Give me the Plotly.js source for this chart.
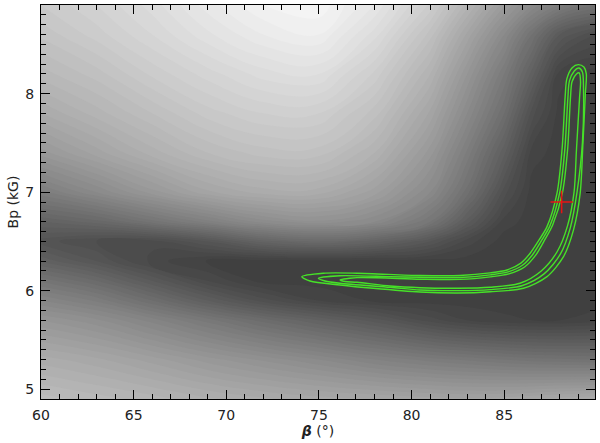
<!DOCTYPE html>
<html>
<head>
<meta charset="utf-8">
<script src="https://cdn.plot.ly/plotly-3.0.1.min.js"></script>
<style>
  html, body { margin: 0; padding: 0; background: #fff; }
  #chart { width: 600px; height: 443px; }
</style>
</head>
<body>
<div id="chart"></div>
<script>
// grid of the background map (beta in deg, Bp in kG)
const beta = [60, 63, 66, 69, 72, 75, 78, 81, 83, 85, 86.5, 88, 89.9];
const bp = [4.9, 5.3, 5.7, 5.9, 6.1, 6.3, 6.5, 6.7, 7.0, 7.4, 7.8, 8.2, 8.6, 8.9];

// grey level (0 black .. 255 white), one row per Bp
const grey = [
  [188, 184, 180, 175, 171, 168, 166, 164, 163, 164, 166, 168, 170],
  [172, 167, 160, 152, 145, 138, 130, 124, 121, 118, 116, 115, 114],
  [150, 143, 132, 120, 108,  98,  88,  76,  70,  67,  66,  66,  68],
  [134, 125, 110,  94,  80,  70,  65,  64,  64,  64,  64,  64,  64],
  [117, 106,  90,  74,  64,  64,  64,  64,  64,  64,  64,  64,  64],
  [ 97,  86,  72,  65,  64,  64,  64,  64,  64,  64,  64,  64,  64],
  [ 84,  78,  76,  86, 100, 106, 100,  86,  72,  64,  64,  64,  64],
  [ 98, 104, 116, 128, 140, 145, 138, 118,  92,  68,  64,  64,  64],
  [125, 138, 152, 165, 172, 172, 160, 138, 112,  80,  64,  64,  64],
  [152, 164, 176, 186, 192, 192, 178, 152, 125,  95,  68,  64,  64],
  [170, 180, 190, 200, 206, 206, 192, 165, 138, 110,  80,  64,  64],
  [184, 192, 203, 212, 220, 222, 205, 178, 150, 122,  96,  68,  64],
  [195, 204, 214, 225, 234, 238, 220, 192, 165, 138, 114,  90,  78],
  [202, 210, 220, 232, 242, 245, 230, 205, 180, 155, 138, 125, 115]
];

// green confidence contours
const outerB = [74.08, 75.23, 77.06, 80.46, 82.62, 84.24, 85.15, 85.9, 86.40, 86.9, 87.31, 87.85, 88.12, 88.29, 88.38, 88.67, 89.00, 89.30, 89.43, 89.38, 89.25, 89.10, 88.74, 88.20, 87.31, 86.04, 84.24, 82.5, 80.46, 77.93, 76.14, 74.52, 74.08];
const outerBp = [6.142, 6.177, 6.177, 6.154, 6.154, 6.180, 6.21, 6.28, 6.38, 6.52, 6.65, 6.99, 7.43, 7.97, 8.15, 8.264, 8.295, 8.27, 8.2, 8.0, 7.5, 6.99, 6.617, 6.345, 6.142, 6.024, 5.989, 5.976, 5.986, 6.024, 6.058, 6.098, 6.142];

const midB = [74.97, 76.14, 78.84, 80.46, 82.62, 84.24, 85.2, 86.0, 86.55, 87.05, 87.47, 88.0, 88.27, 88.44, 88.52, 88.78, 89.02, 89.22, 89.28, 89.22, 88.93, 88.57, 88.03, 87.15, 85.95, 84.24, 82.5, 80.46, 78.84, 76.14, 75.33, 74.97];
const midBp = [6.126, 6.152, 6.142, 6.136, 6.134, 6.160, 6.19, 6.26, 6.37, 6.52, 6.66, 7.0, 7.43, 7.97, 8.13, 8.23, 8.26, 8.22, 8.05, 7.5, 7.0, 6.64, 6.37, 6.17, 6.05, 6.01, 6.00, 6.007, 6.034, 6.075, 6.098, 6.126];

const innerB = [76.14, 77.06, 80.46, 82.62, 84.24, 85.25, 86.1, 86.7, 87.2, 87.62, 88.15, 88.42, 88.58, 88.66, 88.9, 89.05, 89.12, 89.07, 88.9, 88.77, 88.42, 87.87, 87.0, 85.85, 84.24, 82.5, 80.46, 78.84, 77.06, 76.41, 76.14];
const innerBp = [6.108, 6.132, 6.116, 6.114, 6.140, 6.17, 6.24, 6.36, 6.52, 6.67, 7.0, 7.43, 7.97, 8.12, 8.20, 8.21, 8.12, 7.97, 7.43, 7.0, 6.66, 6.40, 6.20, 6.075, 6.035, 6.025, 6.030, 6.047, 6.085, 6.093, 6.108];

// best fit
const bestB = [88.1];
const bestBp = [6.9];

const green = 'rgb(70,225,40)';
function loop(xs, ys) {
  return {
    type: 'scatter', mode: 'lines', x: xs, y: ys,
    line: { color: green, width: 1.4, shape: 'spline', smoothing: 0.8 },
    hoverinfo: 'skip', showlegend: false
  };
}

const traces = [
  {
    type: 'contour', x: beta, y: bp, z: grey,
    colorscale: [[0, 'rgb(64,64,64)'], [1, 'rgb(248,248,248)']],
    zmin: 64, zmax: 248, zauto: false, showscale: false,
    contours: { coloring: 'fill', start: 66, end: 246, size: 4, showlines: false },
    line: { width: 0, smoothing: 1.3 },
    hoverinfo: 'skip'
  },
  loop(outerB, outerBp),
  loop(midB, midBp),
  loop(innerB, innerBp),
  {
    type: 'scatter', mode: 'markers', x: bestB, y: bestBp,
    marker: { symbol: 'cross-thin', size: 16, line: { color: 'rgb(230,20,20)', width: 1.5 } },
    hoverinfo: 'skip', showlegend: false
  }
];

const font = { family: 'DejaVu Sans, Liberation Sans, sans-serif', size: 14, color: '#222' };

const axisBase = {
  showgrid: false, zeroline: false,
  showline: true, linecolor: '#000', linewidth: 1, mirror: 'allticks',
  ticks: 'inside', tickcolor: '#000', tickwidth: 1, ticklen: 9,
  tickfont: font
};

const layout = {
  width: 600, height: 443,
  margin: { l: 41, r: 5, t: 5, b: 44 },
  paper_bgcolor: '#fff', plot_bgcolor: '#fff',
  showlegend: false,
  font: font,
  xaxis: Object.assign({}, axisBase, {
    range: [60, 89.9], tick0: 60, dtick: 5,
    minor: { dtick: 1, ticks: 'inside', ticklen: 5, tickcolor: '#000' },
    ticklabelstandoff: 3,
    title: { text: '<b><i>β</i></b> (°)', font: font, standoff: 3 }
  }),
  yaxis: Object.assign({}, axisBase, {
    range: [4.9, 8.9], tick0: 5, dtick: 1,
    minor: { dtick: 0.1, ticks: 'inside', ticklen: 5, tickcolor: '#000' },
    ticklabelstandoff: 3,
    title: { text: 'Bp (kG)', font: font, standoff: 3 }
  })
};

Plotly.newPlot('chart', traces, layout, { staticPlot: true, displayModeBar: false });
</script>
</body>
</html>
